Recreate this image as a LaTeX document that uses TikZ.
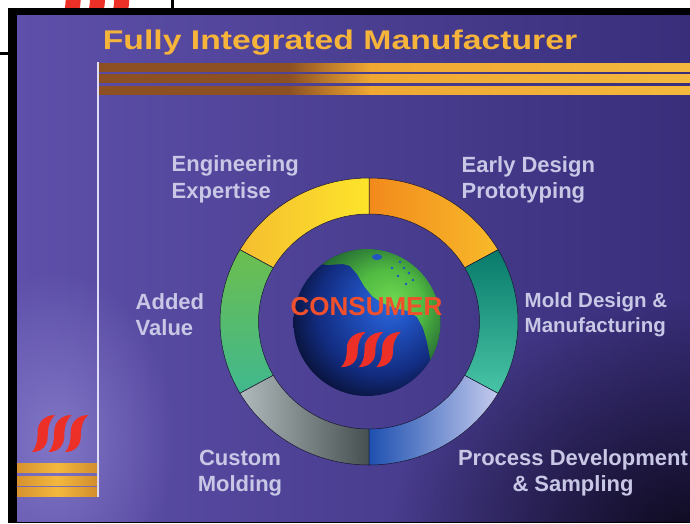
\documentclass[tikz,border=0pt]{standalone}
\usepackage{fontspec}
\setmainfont{Liberation Sans}
\newfontfamily\titlefont[FakeStretch=1.25]{Liberation Sans}
\usetikzlibrary{fadings}

% slide colours
\definecolor{slideleft}{RGB}{94,80,170}
\definecolor{slidemid}{RGB}{86,70,160}
\definecolor{slideright}{RGB}{56,46,122}
\definecolor{slidedark}{RGB}{14,10,30}
\definecolor{slideglow}{RGB}{138,128,206}
\definecolor{titlegold}{RGB}{246,180,58}
\definecolor{barbrown}{RGB}{140,80,34}
\definecolor{bargold}{RGB}{240,168,50}
\definecolor{barlight}{RGB}{244,184,62}
\definecolor{rulewhite}{RGB}{224,220,244}
\definecolor{labelgray}{RGB}{200,200,230}
\definecolor{logored}{RGB}{236,48,40}
\definecolor{consred}{RGB}{240,80,44}
\definecolor{ringline}{RGB}{24,22,48}
% globe colours
\definecolor{sealight}{RGB}{50,112,222}
\definecolor{seamid}{RGB}{34,84,196}
\definecolor{seadeep}{RGB}{18,44,128}
\definecolor{seanight}{RGB}{6,10,36}
\definecolor{landlight}{RGB}{110,214,80}
\definecolor{landmid}{RGB}{80,186,66}
\definecolor{landdeep}{RGB}{40,112,52}
\definecolor{landnight}{RGB}{14,40,26}

\pgfdeclarehorizontalshading{topbar}{100bp}{color(0bp)=(barbrown); color(25bp)=(barbrown); color(41bp)=(barbrown); color(48bp)=(bargold); color(75bp)=(barlight); color(100bp)=(barlight)}
\pgfdeclarehorizontalshading{sidebar}{100bp}{color(0bp)=(bargold!75!barbrown); color(25bp)=(bargold!75!barbrown); color(50bp)=(barlight); color(75bp)=(bargold!70!barbrown); color(100bp)=(bargold!70!barbrown)}
\pgfdeclareradialshading{globesea}{\pgfpoint{9bp}{8bp}}{color(0bp)=(sealight); color(8bp)=(seamid); color(22bp)=(seadeep); color(33bp)=(seanight); color(50bp)=(seanight)}
\pgfdeclareradialshading{globeland}{\pgfpoint{9bp}{8bp}}{color(0bp)=(landlight); color(12bp)=(landmid); color(24bp)=(landdeep); color(34bp)=(landnight); color(50bp)=(landnight)}

\tikzfading[name=softspot, inner color=transparent!0, outer color=transparent!100]

% one slice of the ring, angles in degrees
\newcommand{\segpath}[2]{(#1:149 and 143.5) arc[start angle=#1, end angle=#2, x radius=149, y radius=143.5]
  -- (#2:110.5 and 107.5) arc[start angle=#2, end angle=#1, x radius=110.5, y radius=107.5] -- cycle}

\tikzset{
  ringseg/.style={draw=ringline, line width=0.5pt},
  ringtext/.style={text=labelgray, font=\fontsize{22}{26.5}\selectfont\bfseries,
    inner sep=0pt, anchor=base west, align=left},
  sss/.pic={
    \foreach \k in {0,1,2}
      \fill[logored, shift={(18*\k,0)}] (24,0) .. controls (13,0) and (5,7) .. (5,17)
        .. controls (5,27) and (3,33) .. (-1,37)
        .. controls (9,37) and (16,31) .. (16,21)
        .. controls (16,11) and (19,4) .. (24,0) -- cycle;
  }
}

\begin{document}
\begin{tikzpicture}[x=1pt, y=-1pt]
  \useasboundingbox (0,0) rectangle (690,523);
  \fill[white] (0,0) rectangle (690,523);

  % slide underneath, peeking out at the top
  \begin{scope}
    \clip (0,0) rectangle (172,8);
    \pic[scale=1.35] at (59,-27) {sss};
  \end{scope}
  \fill[black] (171,0) rectangle (173.5,9);
  \fill[black] (0,52) rectangle (9,55);

  % frame and background
  \fill[black] (8,8) rectangle (690,523);
  \begin{scope}
    \clip (17,15) rectangle (690,521);
    \shade[left color=slideleft, middle color=slidemid, right color=slideright] (17,15) rectangle (690,521);
    \fill[slidedark, path fading=softspot] (690,540) ellipse (300 and 240);
    \fill[slideglow, path fading=softspot, opacity=.8] (55,440) ellipse (120 and 170);
  \end{scope}

  % title and gold rules
  \node (title) [text=titlegold, font=\titlefont\fontsize{27}{27}\selectfont\bfseries, inner sep=0pt, anchor=base] at (340,49) {Fully Integrated Manufacturer};
  \foreach \y in {63,74.5,86}
    \shade[shading=topbar] (99,\y) rectangle (690,\y+8);
  \draw[rulewhite, line width=2pt] (98,62) -- (98,497);

  % corner logo
  \pic[xscale=0.92] at (33,415) {sss};
  \foreach \y in {463,476,487.5}
    \shade[shading=sidebar] (17,\y) rectangle (97,\y+9);

  % ring of six slices
  \coordinate (ring) at (369,321.5);
  \begin{scope}[shift={(ring)}]
    % early design
    \shade[ringseg, left color={rgb,255:red,242;green,138;blue,28}, right color={rgb,255:red,248;green,186;blue,42}] \segpath{-90}{-30};
    % engineering
    \shade[ringseg, left color={rgb,255:red,245;green,190;blue,48}, right color={rgb,255:red,253;green,228;blue,42}] \segpath{-150}{-90};
    % added value
    \shade[ringseg, top color={rgb,255:red,108;green,190;blue,78}, bottom color={rgb,255:red,64;green,184;blue,142}] \segpath{150}{210};
    % custom molding
    \shade[ringseg, left color={rgb,255:red,176;green,186;blue,188}, right color={rgb,255:red,70;green,80;blue,80}] \segpath{90}{150};
    % process development
    \shade[ringseg, left color={rgb,255:red,30;green,80;blue,176}, right color={rgb,255:red,196;green,203;blue,238}] \segpath{30}{90};
    % mold design
    \shade[ringseg, top color={rgb,255:red,8;green,122;blue,106}, middle color={rgb,255:red,18;green,180;blue,142}, bottom color={rgb,255:red,72;green,196;blue,166}] \segpath{-30}{30};
  \end{scope}

  % globe
  \coordinate (globe) at (367,322.5);
  \shade[shading=globesea] (globe) circle (73.5);
  \begin{scope}
    \clip (globe) circle (73.5);
    \clip (300,240) -- (300,262) -- (328,265) -- (343,264) -- (350,266) -- (357,274) -- (364,286)
      -- (372,296) -- (382,303) -- (395,308) -- (408,311) -- (417,317) -- (423,328) -- (427,342)
      -- (430,358) -- (433,375) -- (450,375) -- (450,240) -- cycle;
    \shade[shading=globeland] (globe) circle (73.5);
    % lakes and bays
    \fill[seamid] (377,257) ellipse (5 and 3);
    \foreach \p in {(400,262),(404,268),(409,273),(398,276),(413,280),(406,284),(392,268)}
      \fill[seamid] \p circle (1.3);
  \end{scope}

  \node (consumer) [text=consred, font=\fontsize{26}{26}\selectfont\bfseries, inner sep=0pt] at (366.5,306.5) {CONSUMER};
  \pic[xscale=0.98, yscale=0.95] at (342,332) {sss};

  % labels round the ring (base = last line)
  \node (engineering) [ringtext] at (171.5,198) {Engineering\\Expertise};
  \node (early) [ringtext] at (461.5,198.5) {Early Design\\Prototyping};
  \node (added) [ringtext] at (135.5,335.5) {Added\\Value};
  \node (mold) [ringtext, font=\fontsize{20.5}{25}\selectfont\bfseries] at (524.5,332.5) {Mold Design \&\\Manufacturing};
  \node (custom) [ringtext, anchor=base, align=center] at (240,491.5) {Custom\\Molding};
  \node (process) [ringtext, anchor=base, align=center] at (573,491.5) {Process Development\\\& Sampling};
\end{tikzpicture}
\end{document}
